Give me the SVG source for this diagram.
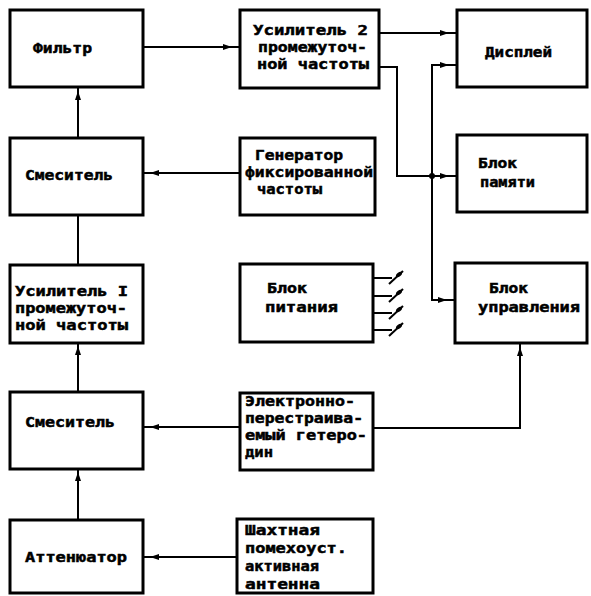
<svg xmlns="http://www.w3.org/2000/svg" xmlns:xlink="http://www.w3.org/1999/xlink" width="591" height="596" viewBox="0 0 591 596">
<style>
.box{fill:#fff;stroke:#000;stroke-width:3}
.t{font-family:"DejaVu Sans Mono","Liberation Mono",monospace;font-weight:bold;font-size:14px;fill:#000;stroke:#000;stroke-width:0.5}
.c{fill:none;stroke:#000;stroke-width:2}
.ah{fill:#000}
</style>
<defs>
<path id="ah" d="M0,0 L-9,-3 L-9,3 Z"/>
<g id="term">
<line x1="0" y1="0" x2="19" y2="0" stroke="#000" stroke-width="2"/>
<line x1="16" y1="6" x2="30" y2="-7" stroke="#000" stroke-width="2"/>
<ellipse cx="26" cy="-3.5" rx="3.5" ry="2" transform="rotate(-40 26 -3.5)" fill="#000"/>
</g>
</defs>
<rect width="591" height="596" fill="#fff"/>
<g id="connectors">
<path class="c" d="M144,47 H240"/>
<use href="#ah" class="ah" transform="translate(232,47)"/>
<path class="c" d="M78,137 V88"/>
<use href="#ah" class="ah" transform="translate(78,91) rotate(-90)"/>
<path class="c" d="M240,173 H144"/>
<use href="#ah" class="ah" transform="translate(150,173) rotate(180)"/>
<path class="c" d="M78,265 V215"/>
<path class="c" d="M78,392 V343"/>
<use href="#ah" class="ah" transform="translate(78,346) rotate(-90)"/>
<path class="c" d="M240,427 H143"/>
<use href="#ah" class="ah" transform="translate(150,427) rotate(180)"/>
<path class="c" d="M78,520 V469"/>
<use href="#ah" class="ah" transform="translate(78,472) rotate(-90)"/>
<path class="c" d="M237,557 H143"/>
<use href="#ah" class="ah" transform="translate(150,557) rotate(180)"/>
<path class="c" d="M373,428 H520 V343"/>
<use href="#ah" class="ah" transform="translate(520,347) rotate(-90)"/>
<path class="c" d="M379,33 H457"/>
<use href="#ah" class="ah" transform="translate(449,33)"/>
<path class="c" d="M379,67 H397 V176 H457"/>
<use href="#ah" class="ah" transform="translate(449,176)"/>
<path class="c" d="M457,65 H432 V300 H455"/>
<use href="#ah" class="ah" transform="translate(449,65)"/>
<use href="#ah" class="ah" transform="translate(447,300)"/>
<circle cx="432" cy="176" r="3" fill="#000"/>
<use href="#term" transform="translate(373,278)"/>
<use href="#term" transform="translate(373,296)"/>
<use href="#term" transform="translate(373,313)"/>
<use href="#term" transform="translate(373,330)"/>
</g>
<g id="filter">
<rect class="box" x="10" y="10" width="133" height="77"/>
<text class="t" x="33" y="53" textLength="59" lengthAdjust="spacingAndGlyphs">Фильтр</text>
</g>
<g id="mixer1">
<rect class="box" x="10" y="138" width="133" height="77"/>
<text class="t" x="25" y="180" textLength="88" lengthAdjust="spacingAndGlyphs">Смеситель</text>
</g>
<g id="amp1">
<rect class="box" x="10" y="265" width="133" height="78"/>
<text class="t" x="15" y="296" textLength="113" lengthAdjust="spacingAndGlyphs">Усилитель I</text>
<text class="t" x="15" y="313" textLength="112" lengthAdjust="spacingAndGlyphs">промежуточ-</text>
<text class="t" x="15" y="330" textLength="113" lengthAdjust="spacingAndGlyphs">ной частоты</text>
</g>
<g id="mixer2">
<rect class="box" x="10" y="392" width="133" height="77"/>
<text class="t" x="25" y="427" textLength="90" lengthAdjust="spacingAndGlyphs">Смеситель</text>
</g>
<g id="attenuator">
<rect class="box" x="10" y="520" width="133" height="73"/>
<text class="t" x="25" y="562" textLength="102" lengthAdjust="spacingAndGlyphs">Аттенюатор</text>
</g>
<g id="amp2">
<rect class="box" x="240" y="10" width="139" height="78"/>
<text class="t" x="253" y="35" textLength="115" lengthAdjust="spacingAndGlyphs">Усилитель 2</text>
<text class="t" x="258" y="52" textLength="109" lengthAdjust="spacingAndGlyphs">промежуточ-</text>
<text class="t" x="257" y="69" textLength="112" lengthAdjust="spacingAndGlyphs">ной частоты</text>
</g>
<g id="generator">
<rect class="box" x="240" y="138" width="135" height="77"/>
<text class="t" x="255" y="160" textLength="88" lengthAdjust="spacingAndGlyphs">Генератор</text>
<text class="t" x="245" y="177" textLength="128" lengthAdjust="spacingAndGlyphs">фиксированной</text>
<text class="t" x="257" y="194" textLength="65" lengthAdjust="spacingAndGlyphs">частоты</text>
</g>
<g id="power">
<rect class="box" x="240" y="264" width="133" height="78"/>
<text class="t" x="267" y="293" textLength="40" lengthAdjust="spacingAndGlyphs">Блок</text>
<text class="t" x="265" y="312" textLength="73" lengthAdjust="spacingAndGlyphs">питания</text>
</g>
<g id="oscillator">
<rect class="box" x="240" y="393" width="133" height="77"/>
<text class="t" x="245" y="406" textLength="110" lengthAdjust="spacingAndGlyphs">Электронно-</text>
<text class="t" x="245" y="423" textLength="118" lengthAdjust="spacingAndGlyphs">перестраива-</text>
<text class="t" x="245" y="440" textLength="122" lengthAdjust="spacingAndGlyphs">емый гетеро-</text>
<text class="t" x="245" y="457" textLength="28" lengthAdjust="spacingAndGlyphs">дин</text>
</g>
<g id="antenna">
<rect class="box" x="237" y="519" width="136" height="74"/>
<text class="t" x="245" y="535" textLength="75" lengthAdjust="spacingAndGlyphs">Шахтная</text>
<text class="t" x="245" y="553" textLength="102" lengthAdjust="spacingAndGlyphs">помехоуст.</text>
<text class="t" x="245" y="571" textLength="74" lengthAdjust="spacingAndGlyphs">активная</text>
<text class="t" x="245" y="589" textLength="75" lengthAdjust="spacingAndGlyphs">антенна</text>
</g>
<g id="display">
<rect class="box" x="457" y="10" width="130" height="77"/>
<text class="t" x="485" y="57" textLength="67" lengthAdjust="spacingAndGlyphs">Дисплей</text>
</g>
<g id="memory">
<rect class="box" x="457" y="135" width="130" height="77"/>
<text class="t" x="478" y="168" textLength="39" lengthAdjust="spacingAndGlyphs">Блок</text>
<text class="t" x="480" y="187" textLength="55" lengthAdjust="spacingAndGlyphs">памяти</text>
</g>
<g id="control">
<rect class="box" x="455" y="263" width="132" height="80"/>
<text class="t" x="489" y="293" textLength="39" lengthAdjust="spacingAndGlyphs">Блок</text>
<text class="t" x="478" y="312" textLength="102" lengthAdjust="spacingAndGlyphs">управления</text>
</g>
</svg>
